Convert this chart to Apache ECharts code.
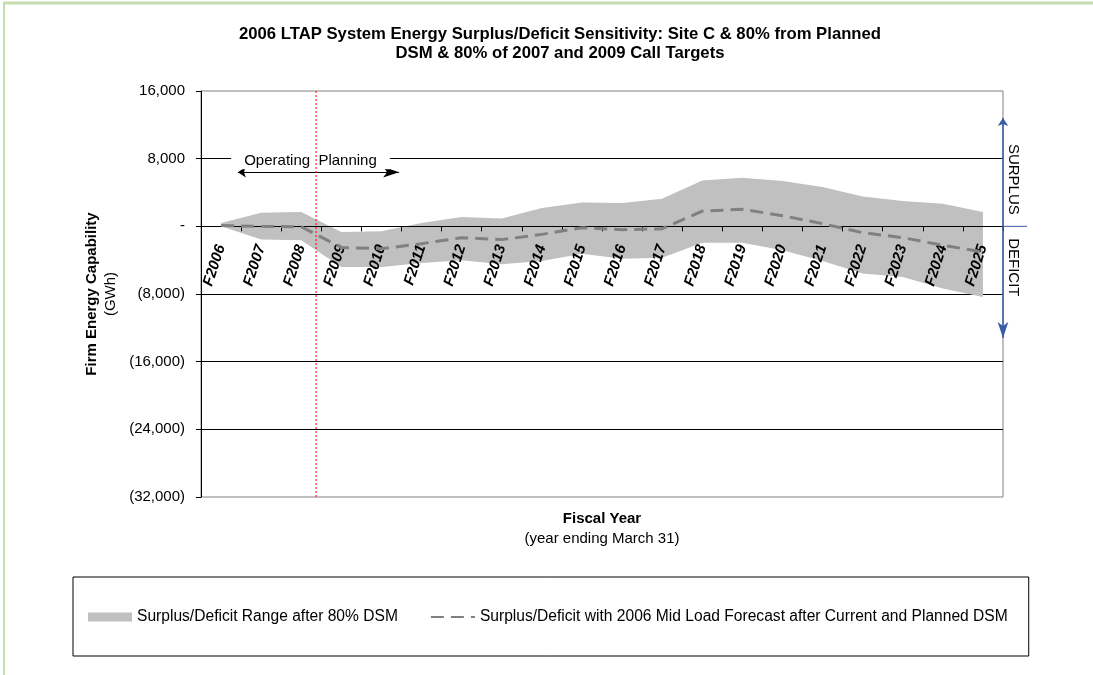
<!DOCTYPE html>
<html>
<head>
<meta charset="utf-8">
<title>2006 LTAP System Energy Surplus/Deficit Sensitivity</title>
<script src="https://cdn.jsdelivr.net/npm/echarts@6/dist/echarts.min.js"></script>
<style>
  html, body { margin: 0; padding: 0; background: #fff; }
  #chart { width: 1093px; height: 675px; }
</style>
</head>
<body>
<div id="chart"></div>
<script>
// fiscal years
var years = ['F2006', 'F2007', 'F2008', 'F2009', 'F2010', 'F2011', 'F2012', 'F2013', 'F2014', 'F2015',
  'F2016', 'F2017', 'F2018', 'F2019', 'F2020', 'F2021', 'F2022', 'F2023', 'F2024', 'F2025'];

// surplus/deficit range after 80% DSM (GWh)
var rangeLow = [0, -1570, -1650, -4800, -4800, -4330, -4000, -4490, -4090, -3230,
  -3820, -3700, -1930, -1930, -2830, -4090, -5590, -5980, -7360, -8350];
var rangeHigh = [400, 1620, 1690, -670, -590, 390, 1100, 940, 2170, 2830,
  2760, 3270, 5430, 5750, 5350, 4640, 3540, 2990, 2680, 1690];

// mid load forecast after current and planned DSM (GWh)
var midLoad = [100, 0, -50, -2500, -2650, -2050, -1340, -1570, -950, -160,
  -400, -280, 1810, 2010, 1260, 310, -750, -1340, -2240, -3030];

// y axis ticks
var yMin = -32000, yMax = 16000, yStep = 8000;

// annotations, x in year slots (0 .. 20), y in GWh
var planningStart = 2.87;
var operatingArrow = [[0.92, 6400], [4.94, 6400]];
var surplusArrow = [[20, 12800], [20, -13200]];

var rangeName = 'Surplus/Deficit Range after 80% DSM';
var midName = 'Surplus/Deficit with 2006 Mid Load Forecast after Current and Planned DSM';

var font = '"Liberation Sans", Arial, sans-serif';
var blue = '#3a5ba8';
var labelGap = 19;

function fmtNum(v) {
  return Math.abs(v).toLocaleString('en-US');
}

var rangeSpan = rangeHigh.map(function (h, i) { return h - rangeLow[i]; });

var chart = echarts.init(document.getElementById('chart'));

var option = {
  animation: false,
  backgroundColor: '#fff',
  textStyle: { fontFamily: font, color: '#000' },
  title: {
    text: '2006 LTAP System Energy Surplus/Deficit Sensitivity: Site C & 80% from Planned\nDSM & 80% of 2007 and 2009 Call Targets',
    left: 555,
    top: 20,
    textAlign: 'center',
    textStyle: { fontSize: 16.7, fontWeight: 'bold', lineHeight: 19, color: '#000' }
  },
  grid: {
    left: 201, right: 90, top: 91, bottom: 178,
    show: true, borderColor: '#808080', borderWidth: 1
  },
  legend: {
    left: 73, top: 577,
    padding: [32, 21, 31, 15],
    borderColor: '#000', borderWidth: 1,
    itemGap: 32, itemWidth: 44, itemHeight: 9,
    textStyle: { fontSize: 15.6, color: '#000' },
    selectedMode: false,
    data: [
      { name: rangeName, icon: 'rect' },
      { name: midName, itemStyle: { opacity: 0 } }
    ]
  },
  xAxis: [
    {
      type: 'category',
      data: years,
      z: 3,
      axisLine: { onZero: true, lineStyle: { color: '#000', width: 1 } },
      axisTick: { show: true, length: 5, lineStyle: { color: '#000' } },
      axisLabel: {
        interval: 0, rotate: 72, margin: labelGap,
        fontSize: 15, fontWeight: 'bold', fontStyle: 'italic', color: '#000'
      },
      splitLine: { show: false }
    },
    {
      type: 'value',
      min: 0, max: 20,
      position: 'bottom',
      axisLine: { show: false, onZero: false },
      axisTick: { show: false },
      axisLabel: { show: false },
      splitLine: { show: false },
      name: '{b|Fiscal Year}\n{n|(year ending March 31)}',
      nameLocation: 'middle',
      nameGap: 12,
      nameTextStyle: {
        align: 'center',
        rich: {
          b: { fontSize: 15, fontWeight: 'bold', lineHeight: 20, align: 'center' },
          n: { fontSize: 15, lineHeight: 20, align: 'center' }
        }
      }
    }
  ],
  yAxis: {
    type: 'value',
    min: yMin, max: yMax, interval: yStep,
    axisLine: { show: true, lineStyle: { color: '#000' } },
    axisTick: { show: true, length: 5, lineStyle: { color: '#000' } },
    axisLabel: {
      margin: 16, fontSize: 15, color: '#000',
      formatter: function (v) {
        if (v === 0) return '-';
        return v < 0 ? '(' + fmtNum(v) + ')' : fmtNum(v);
      }
    },
    splitLine: { show: true, showMinLine: false, showMaxLine: false, lineStyle: { color: '#000', width: 1 } },
    name: '{b|Firm Energy Capability}\n{n|(GWh)}',
    nameLocation: 'middle',
    nameRotate: 90,
    nameGap: 78,
    nameTextStyle: {
      align: 'center',
      rich: {
        b: { fontSize: 15, fontWeight: 'bold', lineHeight: 19, align: 'center' },
        n: { fontSize: 15, lineHeight: 19, align: 'center' }
      }
    }
  },
  series: [
    {
      name: 'rangeBase',
      type: 'line',
      data: rangeLow,
      stack: 'range',
      stackStrategy: 'all',
      symbol: 'none',
      silent: true,
      lineStyle: { opacity: 0 },
      z: 2
    },
    {
      name: rangeName,
      type: 'line',
      data: rangeSpan,
      stack: 'range',
      stackStrategy: 'all',
      symbol: 'none',
      silent: true,
      color: '#c0c0c0',
      lineStyle: { width: 0, color: '#c0c0c0' },
      areaStyle: { color: '#c0c0c0', opacity: 1 },
      z: 2
    },
    {
      name: midName,
      type: 'line',
      data: midLoad,
      symbol: 'none',
      silent: true,
      color: '#808080',
      lineStyle: { color: '#808080', width: 3, type: [13, 7] },
      z: 4
    },
    {
      name: 'annotations',
      type: 'line',
      xAxisIndex: 1,
      yAxisIndex: 0,
      data: [[planningStart, yMax], [planningStart, yMin]],
      symbol: 'none',
      silent: true,
      color: '#ff0000',
      lineStyle: { color: '#ff0000', width: 1, type: [2, 2] },
      z: 5,
      markLine: {
        silent: true,
        animation: false,
        symbol: ['arrow', 'arrow'],
        data: [
          [
            {
              coord: operatingArrow[0],
              symbolSize: [8, 8],
              lineStyle: { color: '#000', width: 1, type: 'solid' },
              label: {
                show: true,
                position: 'middle',
                distance: 3,
                offset: [-8, 0],
                formatter: 'Operating  Planning',
                fontSize: 15,
                color: '#000',
                backgroundColor: '#fff',
                padding: [1, 13]
              }
            },
            { coord: operatingArrow[1] }
          ],
          [
            {
              coord: surplusArrow[0],
              symbolSize: [8, 8],
              lineStyle: { color: blue, width: 1.5, type: 'solid' },
              label: { show: false }
            },
            { coord: surplusArrow[1] }
          ]
        ]
      }
    }
  ]
};

chart.setOption(option);

// pixel positions of the zero line and the plot edges
var zeroY = chart.convertToPixel({ yAxisIndex: 0 }, 0);
var bottomY = chart.convertToPixel({ yAxisIndex: 0 }, yMin);
var rightX = chart.convertToPixel({ xAxisIndex: 1 }, 20);

chart.setOption({
  // year labels hang just under the zero line
  xAxis: [{ axisLabel: { margin: labelGap - (bottomY - zeroY) } }, {}],
  graphic: [
    {
      type: 'line',
      shape: { x1: rightX, y1: zeroY, x2: rightX + 24, y2: zeroY },
      style: { stroke: blue, lineWidth: 1 },
      silent: true
    },
    {
      type: 'text',
      x: rightX + 10, y: zeroY - 47,
      rotation: -Math.PI / 2,
      style: { text: 'SURPLUS', fontSize: 15, fontFamily: font, fill: '#000', align: 'center', verticalAlign: 'middle' },
      silent: true
    },
    {
      type: 'text',
      x: rightX + 10, y: zeroY + 41,
      rotation: -Math.PI / 2,
      style: { text: 'DEFICIT', fontSize: 15, fontFamily: font, fill: '#000', align: 'center', verticalAlign: 'middle' },
      silent: true
    },
    {
      type: 'line',
      shape: { x1: 3, y1: 3, x2: 1093, y2: 3 },
      style: { stroke: '#c3dcb0', lineWidth: 3 },
      silent: true
    },
    {
      type: 'line',
      shape: { x1: 4, y1: 3, x2: 4, y2: 675 },
      style: { stroke: '#c3dcb0', lineWidth: 2 },
      silent: true
    }
  ]
});

window.onresize = function () {
  chart.resize();
};
</script>
</body>
</html>
